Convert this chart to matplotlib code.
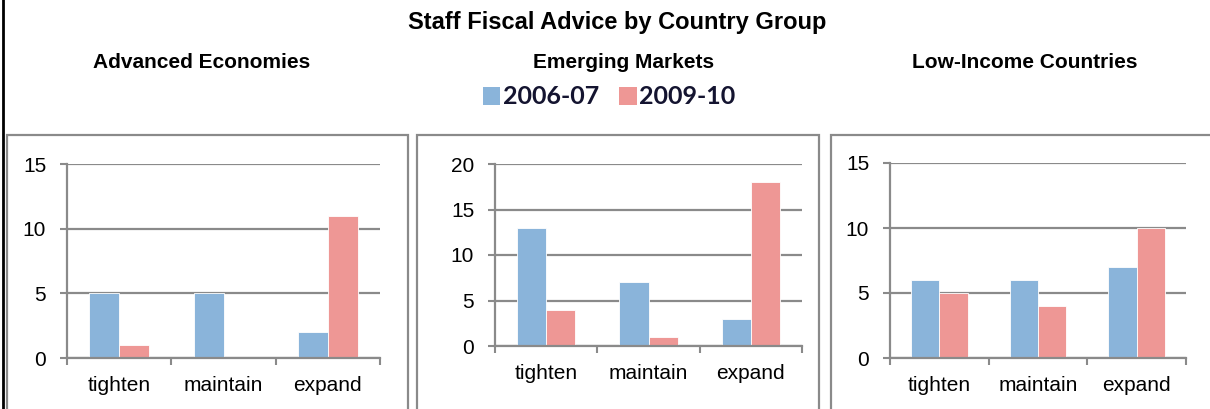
import matplotlib
matplotlib.use("Agg")
import matplotlib.pyplot as plt
from matplotlib.patches import Rectangle, Patch
from matplotlib.lines import Line2D

plt.rcParams['font.family'] = ['Liberation Sans', 'DejaVu Sans']

# Data
categories = ["tighten", "maintain", "expand"]
series_names = ["2006-07", "2009-10"]
groups = ["Advanced Economies", "Emerging Markets", "Low-Income Countries"]
advanced_0607 = [5, 5, 2]
advanced_0910 = [1, 0, 11]
emerging_0607 = [13, 7, 3]
emerging_0910 = [4, 1, 18]
lowincome_0607 = [6, 6, 7]
lowincome_0910 = [5, 4, 10]
y_max = [15, 20, 15]

BLUE = "#8AB4DA"
RED = "#EE9795"
GRAY = "#8A8A8A"

W, H = 1210, 409
fig = plt.figure(figsize=(W / 100, H / 100), dpi=100)


def px_box(x0, y0, x1, y1):
    return [x0 / W, 1 - y1 / H, (x1 - x0) / W, (y1 - y0) / H]


# outer frame line on the left edge
fig.add_artist(Line2D([3 / W, 3 / W], [0, 1], transform=fig.transFigure,
                      color="black", lw=2.0))

# panel frames
for (x0, x1) in [(7, 408), (417, 819), (831, 1230)]:
    fig.add_artist(Rectangle((x0 / W, -0.1), (x1 - x0) / W, 1.1 - 135 / H,
                             transform=fig.transFigure, fill=False,
                             edgecolor=GRAY, lw=1.6))

fig.text(617 / W, 1 - 22 / H, "Staff Fiscal Advice by Country Group",
         ha="center", va="center", fontsize=17, fontweight="bold")

title_x = [202, 624, 1025]
for gx, g in zip(title_x, groups):
    fig.text(gx / W, 1 - 63 / H, g, ha="center", va="center",
             fontsize=15, fontweight="bold")

axes_px = [(67, 164, 380, 358), (495, 164, 802, 346), (890, 163, 1186, 358)]
data = [(advanced_0607, advanced_0910),
        (emerging_0607, emerging_0910),
        (lowincome_0607, lowincome_0910)]

w = 1 / 3.5
xs = list(range(len(categories)))
for (box, (s1, s2), ymax) in zip(axes_px, data, y_max):
    ax = fig.add_axes(px_box(*box))
    ax.bar([x - w / 2 for x in xs], s1, width=w, color=BLUE,
           edgecolor="white", linewidth=0.6, zorder=3)
    ax.bar([x + w / 2 for x in xs], s2, width=w, color=RED,
           edgecolor="white", linewidth=0.6, zorder=3)
    ax.set_xlim(-0.5, 2.5)
    ax.set_ylim(0, ymax)
    ax.set_yticks(range(0, ymax + 1, 5))
    ax.set_xticks([-0.5, 0.5, 1.5, 2.5])
    ax.set_xticklabels([])
    ax.set_xticks(xs, minor=True)
    ax.set_xticklabels(categories, minor=True)
    ax.tick_params(axis="x", which="minor", length=0, pad=13, labelsize=15)
    ax.tick_params(axis="x", which="major", length=5, width=1.5, color=GRAY,
                   direction="out")
    ax.tick_params(axis="y", length=5, width=1.5, color=GRAY, pad=10,
                   labelsize=15)
    ax.grid(axis="y", color=GRAY, lw=1.6, zorder=1)
    ax.set_axisbelow(True)
    for side in ("top", "right"):
        ax.spines[side].set_visible(False)
    for side in ("left", "bottom"):
        ax.spines[side].set_color(GRAY)
        ax.spines[side].set_linewidth(1.6)
        ax.spines[side].set_zorder(4)

handles = [Patch(facecolor=BLUE, edgecolor="none"),
           Patch(facecolor=RED, edgecolor="none")]
fig.legend(handles, series_names, loc="center",
           bbox_to_anchor=(609 / W, 1 - 97 / H), ncol=2, frameon=False,
           prop={"family": "Lato", "weight": "bold", "size": 18},
           labelcolor="#141430", handlelength=0.7, handleheight=0.7,
           handletextpad=0.1, columnspacing=0.8)

fig.savefig("out.png", dpi=100)
